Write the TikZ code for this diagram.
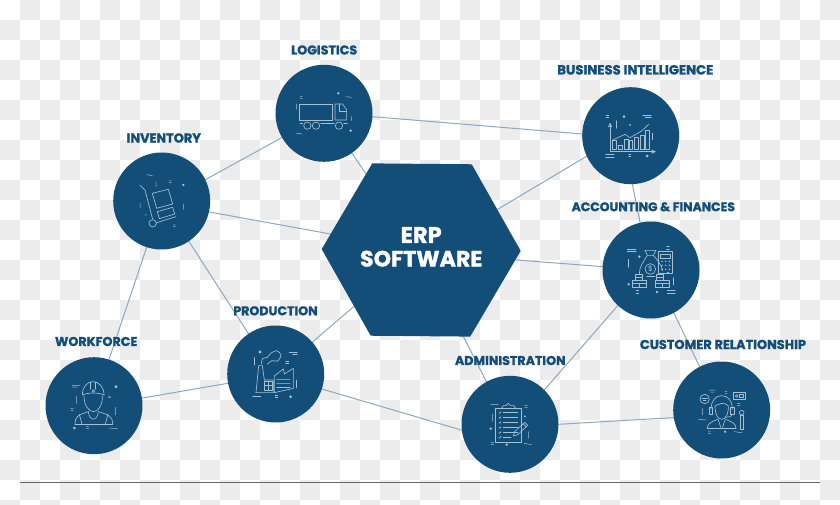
\documentclass[tikz,border=0pt]{standalone}
\usepackage{fontspec}
\usetikzlibrary{shapes.geometric,backgrounds}
\newfontfamily\lblfont{Poppins}[FakeBold=1.4]
\newfontfamily\plainfont{Poppins}
\definecolor{navy}{HTML}{124E78}
\definecolor{linkc}{HTML}{8DA9BF}
\definecolor{iconc}{HTML}{A6C0D3}
\definecolor{cell}{HTML}{ECECEC}
\definecolor{rulec}{HTML}{666666}
\newcommand{\fitlbl}[2]{\resizebox{#1pt}{!}{\lblfont\bfseries #2}}
\tikzset{
  hub/.style={circle,fill=navy,minimum size=97pt,inner sep=0pt,outer sep=0pt},
  hexa/.style={regular polygon,regular polygon sides=6,shape border rotate=-0.5,fill=navy,minimum size=199pt,inner sep=0pt,outer sep=0pt},
  lbl/.style={text=navy,inner sep=0pt,outer sep=0pt},
  erp/.style={text=white,inner sep=0pt,outer sep=0pt},
  link/.style={draw=linkc,line width=1pt},
  ico/.style={draw=iconc,line width=.65pt,line join=round,line cap=round},
  bit/.style={draw=iconc,line width=.5pt,line cap=round},
  spot/.style={fill=iconc},
  zoomed/.style={x=0.33333pt,y=-0.33333pt}
}
\begin{document}
\begin{tikzpicture}[x=1pt,y=-1pt]
\useasboundingbox (0,0) rectangle (840,505);
% nodes
\node[hexa] (hex) at (421.2,250) {};
\node[hub] (log) at (324,113.3) {};
\node[hub] (inv) at (161.7,201) {};
\node[hub] (bi) at (630.7,135.7) {};
\node[hub] (acc) at (651,270) {};
\node[hub] (work) at (94,405.7) {};
\node[hub] (prod) at (275.7,374) {};
\node[hub] (adm) at (510,424.3) {};
\node[hub] (cust) at (721.7,410) {};
\coordinate (ruleL) at (20,482.5);
\coordinate (ruleR) at (820,482.5);
\begin{scope}[on background layer]
  \begin{scope}
    \clip (0,0) rectangle (840,505);
    \fill[white] (0,0) rectangle (840,505);
    \foreach \i in {0,...,41}{\foreach \j in {0,...,25}{
      \pgfmathtruncatemacro{\cellodd}{mod(\i+\j,2)}
      \ifnum\cellodd=1
        \fill[cell] ({\i*20},{\j*20}) rectangle ({\i*20+20},{\j*20+20});
      \fi
    }}
  \end{scope}
  \draw[link] (inv.26.4) -- (log.210);
  \draw[link] (log.-55.8) -- (hex.126.1);
  \draw[link] (log.-4.4) -- (bi.178.3);
  \draw[link] (bi.205) -- (hex.28.1);
  \draw[link] (bi.-88.1) -- (acc.103);
  \draw[link] (hex.-6.7) -- (acc.176.8);
  \draw[link] (acc.227.8) -- (adm.45);
  \draw[link] (acc.-62) -- (cust.117);
  \draw[link] (adm.-0.4) -- (cust.189);
  \draw[link] (hex.-64.2) -- (adm.119.7);
  \draw[link] (prod.-18.8) -- (adm.187.1);
  \draw[link] (prod.41.3) -- (hex.220.7);
  \draw[link] (work.9.4) -- (prod.191.7);
  \draw[link] (inv.-56.9) -- (prod.124.9);
  \draw[link] (inv.252) -- (work.72.4);
  \draw[link] (inv.-13.2) -- (hex.170.2);
  \draw[draw=rulec,line width=1pt] (ruleL) -- (ruleR);
\end{scope}
% labels
\node[lbl] (tlog) at (324.2,50) {\fitlbl{66}{LOGISTICS}};
\node[lbl] (tinv) at (163.8,138) {\fitlbl{74.3}{INVENTORY}};
\node[lbl] (tbi) at (635.3,69.8) {\fitlbl{156}{BUSINESS INTELLIGENCE}};
\node[lbl] (tacc) at (653.3,206.8) {\fitlbl{163.3}{ACCOUNTING \& FINANCES}};
\node[lbl] (twork) at (96.2,341.5) {\fitlbl{82.3}{WORKFORCE}};
\node[lbl] (tprod) at (275.5,310.8) {\fitlbl{84.4}{PRODUCTION}};
\node[lbl] (tadm) at (510.3,360.5) {\fitlbl{110.7}{ADMINISTRATION}};
\node[lbl] (tcust) at (723,344.5) {\fitlbl{166}{CUSTOMER RELATIONSHIP}};
\node[erp] (terp) at (421.2,235) {\fitlbl{41}{ERP}};
\node[erp] (tsoft) at (421.2,258.7) {\fitlbl{122.3}{SOFTWARE}};
% truck
\begin{scope}[shift={(100,30)},zoomed]
  \draw[ico] (598,222) rectangle (698,270);
  \draw[ico] (705,270) -- (705,222) -- (728,222) -- (740,240) -- (740,270) -- cycle;
  \draw[ico] (718,222) -- (718,245) -- (740,245);
  \draw[ico] (600,280) -- (608,280) (662,280) -- (703,280) (731,280) -- (742,280);
  \draw[ico] (622,287) circle (11);
  \draw[ico] (648,287) circle (11);
  \draw[ico] (717,287) circle (11);
  \fill[spot] (715,190) circle (4) (752,302) circle (4);
  \draw[bit] (601,200) -- (607,200) (601,205) -- (607,205) (738,200) -- (754,202) (590,310) -- (606,312)
             (590,222) -- (590,238) (755,260) -- (755,272);
  % trolley
  \draw[ico] (120,466) -- (135,480) -- (158,568);
  \draw[ico] (158,580) circle (11);
  \draw[ico] (170,578) -- (228,560);
  \draw[ico] (157,490) -- (205,478) -- (218,522) -- (170,535) -- cycle;
  \draw[ico] (172,545) -- (218,532) -- (224,552) -- (178,566) -- cycle;
  \fill[spot] (250,465) circle (4);
  \draw[bit] (140,434) -- (157,437) (168,456) -- (168,470) (207,453) -- (214,453) (207,458) -- (214,458)
             (120,520) -- (120,534) (250,522) -- (250,538) (134,555) -- (140,555) (220,585) -- (226,585) (220,590) -- (226,590);
\end{scope}
% chart
\begin{scope}[shift={(550,50)},zoomed]
  \draw[ico] (180,222) -- (180,305) -- (315,305);
  \draw[ico] (175,230) -- (180,220) -- (185,230) -- cycle;
  \draw[ico] (306,300) -- (316,305) -- (306,310) -- cycle;
  \foreach \a/\b/\c in {188/200/272,205/217/285,222/234/268,237/248/270,253/265/262,270/282/255,285/298/240}
    \draw[ico] (\a,297) rectangle (\b,\c);
  \draw[ico] (188,270) -- (225,253) -- (240,263) -- (275,243) -- (297,222);
  \fill[spot] (222,200) circle (4.5) (291,318) circle (4.5) (240,225) circle (3);
  \draw[bit] (168,195) -- (176,195) (168,201) -- (176,201) (278,197) -- (304,197) (285,203) -- (304,203)
             (198,212) -- (198,235) (308,250) -- (308,270) (167,314) -- (192,314) (167,321) -- (192,321)
             (236,312) -- (242,312) (236,320) -- (242,320);
  % money
  \draw[ico] (285,601) -- (318,601) -- (310,616) -- (292,616) -- cycle;
  \draw[ico] (292,616) .. controls (280,635) and (268,650) .. (268,672);
  \draw[ico] (310,616) .. controls (322,630) and (332,640) .. (338,662);
  \draw[ico] (290,680) -- (315,680);
  \draw[ico] (301,657) circle (16);
  \node[text=iconc,font=\plainfont\fontsize{7.5}{8}\selectfont,inner sep=0pt] (dollar) at (301,657) {\$};
  \draw[ico] (326,605) rectangle (367,670);
  \draw[ico] (332,612) rectangle (361,625);
  \foreach \x in {336,347,358}{\foreach \y in {634,646,658}{\fill[spot] (\x,\y) circle (2.5);}}
  \draw[ico] (248,690) rectangle (290,701);
  \draw[ico] (248,701) rectangle (290,712);
  \draw[ico] (255,672) rectangle (276,681);
  \draw[ico] (255,681) rectangle (276,690);
  \draw[ico] (315,690) rectangle (357,701);
  \draw[ico] (315,701) rectangle (357,712);
  \draw[ico] (318,672) rectangle (340,681);
  \draw[ico] (318,681) rectangle (340,690);
  \draw[ico] (268,701) -- (268,712) (336,701) -- (336,712);
  \fill[spot] (268,620) circle (4) (236,703) circle (4) (321,726) circle (4) (354,668) circle (3);
  \draw[bit] (232,598) -- (258,598) (232,604) -- (258,604) (350,590) -- (358,590) (350,597) -- (358,597)
             (236,628) -- (236,652) (371,683) -- (371,705) (352,722) -- (376,722) (352,729) -- (376,729)
             (258,722) -- (266,722) (258,730) -- (266,730);
\end{scope}
% worker, factory
\begin{scope}[shift={(20,300)},zoomed]
  \draw[ico] (187,285) .. controls (187,262) and (200,246) .. (218,245) .. controls (238,245) and (252,262) .. (252,285);
  \draw[ico] (187,285) .. controls (205,277) and (235,277) .. (252,285);
  \draw[ico] (212,246) -- (212,268) (226,246) -- (226,268);
  \draw[ico] (220,273) circle (4);
  \draw[ico] (192,288) .. controls (192,318) and (208,335) .. (220,335) .. controls (233,335) and (248,318) .. (247,288);
  \draw[ico] (165,372) .. controls (165,352) and (172,345) .. (205,335);
  \draw[ico] (278,372) .. controls (278,352) and (270,345) .. (235,335);
  \draw[ico] (205,335) .. controls (208,365) and (232,365) .. (235,335);
  \draw[ico] (165,372) -- (278,372);
  \draw[ico] (178,343) -- (186,372) (264,343) -- (256,372);
  \fill[spot] (288,260) circle (5) (163,384) circle (4.5);
  \draw[bit] (157,256) -- (180,256) (157,261) -- (172,261) (265,288) -- (272,288) (265,293) -- (272,293)
             (170,288) -- (170,310) (286,322) -- (286,345) (152,325) -- (160,325) (152,331) -- (160,331)
             (199,380) -- (206,380) (199,386) -- (206,386) (268,384) -- (292,386);
  % factory
  \draw[ico] (708,278) -- (716,197) -- (727,197) -- (733,240) -- (760,240) -- (760,278) -- cycle;
  \draw[ico] (733,243) rectangle (757,272);
  \draw[ico] (745,243) -- (745,272) (733,257) -- (757,257);
  \draw[ico] (763,278) -- (763,228) -- (790,207) -- (793,222) -- (820,205) -- (820,265) -- cycle;
  \foreach \y in {238,250,262}
    \draw[ico] (770,\y) .. controls (777,\y-5) and (783,\y+5) .. (790,\y) .. controls (797,\y-5) and (803,\y+5) .. (810,\y);
  \draw[ico] plot[smooth] coordinates {(724,192) (728,176) (742,172) (752,160) (770,152) (783,165) (773,183) (756,182) (742,193)};
  \fill[spot] (720,156) circle (5) (812,290) circle (4.5);
  \draw[bit] (808,158) -- (832,158) (818,164) -- (832,164) (703,173) -- (703,195) (797,185) -- (806,185) (797,191) -- (806,191)
             (829,240) -- (829,264) (698,290) -- (722,290) (765,286) -- (773,286) (765,292) -- (773,292);
\end{scope}
% clipboard, agent
\begin{scope}[shift={(450,330)},zoomed]
  \draw[ico] (135,235) rectangle (215,337);
  \draw[ico] (155,235) -- (160,227) -- (168,227) -- (175,220) -- (182,227) -- (192,227) -- (197,235);
  \foreach \y in {248,263,278,293,308}{
    \draw[ico] (147,\y) -- (149,\y+2) -- (153,\y-3);
    \draw[ico] (160,\y) -- (203,\y);
  }
  \draw[ico] (147,322) -- (149,324) -- (153,319);
  \draw[ico] (160,322) -- (183,322);
  \draw[ico] (190,318) -- (194,305) -- (224,277) -- (233,286) -- (203,314) -- cycle;
  \draw[ico] (219,281) -- (228,290);
  \fill[spot] (122,296) circle (4) (170,344) circle (4) (225,259) circle (3);
  \draw[bit] (123,224) -- (145,224) (224,226) -- (232,226) (224,232) -- (232,232) (127,252) -- (127,274)
             (236,305) -- (236,325) (123,338) -- (131,338) (123,344) -- (131,344) (222,340) -- (244,344);
  % agent
  \draw[ico] (783,238) .. controls (783,212) and (797,197) .. (815,197) .. controls (834,197) and (847,212) .. (847,238);
  \draw[ico] (778,232) rectangle (788,252);
  \draw[ico] (842,232) rectangle (852,252);
  \draw[ico] (795,228) .. controls (795,252) and (803,268) .. (815,268) .. controls (827,268) and (836,252) .. (835,228);
  \draw[ico] (795,228) .. controls (805,222) and (825,214) .. (835,228);
  \draw[ico] (847,252) .. controls (846,260) and (835,262) .. (826,262);
  \draw[ico] (805,270) -- (812,292) (825,270) -- (818,292);
  \draw[ico] (772,295) .. controls (772,282) and (782,276) .. (803,268);
  \draw[ico] (858,295) .. controls (858,282) and (848,276) .. (827,268);
  \draw[ico] (772,295) -- (858,295);
  \draw[ico] (764,207) circle (14);
  \draw[ico] (756,204) -- (772,204) (760,211) -- (768,211);
  \draw[ico] (851,186) rectangle (885,209);
  \draw[ico] (860,198) circle (4);
  \draw[ico] (869,193) rectangle (879,203);
  \draw[ico] (870,257) rectangle (880,297);
  \draw[ico] (875,248) circle (7);
  \fill[spot] (825,305) circle (4);
  \draw[bit] (778,180) -- (796,180) (782,186) -- (792,186) (825,184) -- (831,184) (825,190) -- (831,190)
             (862,220) -- (870,220) (862,226) -- (870,226) (758,235) -- (758,255) (746,268) -- (768,270)
             (774,303) -- (782,303) (774,310) -- (782,310) (852,305) -- (875,308);
\end{scope}
\end{tikzpicture}
\end{document}
